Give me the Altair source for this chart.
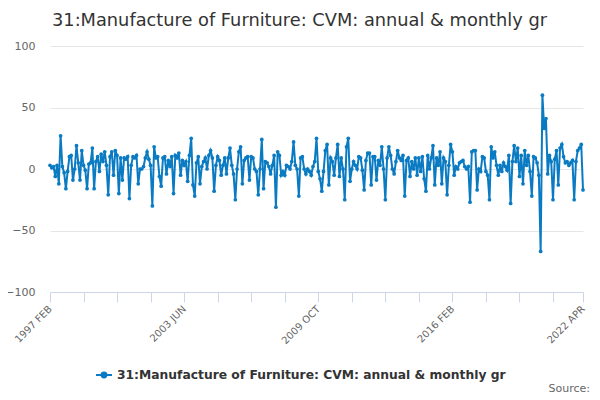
import altair as alt
import pandas as pd

series_name = "31:Manufacture of Furniture: CVM: annual & monthly gr"
title_text = "31:Manufacture of Furniture: CVM: annual & monthly gr"

# monthly values, 1997 FEB .. 2022 APR (303 months)
values = [
    3, 1, 2, -6, 3, -12, 27, 2, -3, -16, -2, 10,
    11, -9, 0, 19, 5, -9, 15, 3, -1, -16, 4, 5,
    17, -16, 6, 10, -2, 12, 6, 14, 3, -21, 10, 14,
    -5, 15, 11, -20, 9, -9, 9, 8, 10, -24, 3, 10,
    9, 11, -12, 0, 0, 2, 9, 14, 8, 3, -30, 18,
    9, 10, -6, -14, 9, 10, -4, 7, 2, 10, -20, 11,
    9, 13, -5, 7, 3, 6, -10, 11, 25, -13, -22, 5,
    10, -12, 2, 6, 9, 0, 11, 15, 9, -18, 3, 10,
    7, -5, 3, 9, -4, 9, 17, 3, -4, -25, 0, 14,
    18, -12, 7, 9, 10, -9, 10, 9, 0, -2, -21, 0,
    24, -16, 6, 5, 2, -4, 3, 11, -31, 14, 11, -5,
    -2, -5, 3, 2, 0, 6, 22, 3, 0, -22, 9, 10,
    0, -4, 0, -2, -5, 2, 6, 25, -2, -8, -18, -2,
    15, 20, -13, 9, 6, -5, 9, 20, -6, 9, 0, -25,
    18, 25, -10, 0, 6, 3, 0, 10, 9, -1, -17, 7,
    13, 13, -13, 10, 10, -9, 7, 3, 18, 0, -25, 9,
    18, 11, 0, -4, 6, 15, 9, 7, 11, -22, 7, 9,
    -6, 6, 0, 9, -5, 9, -2, 10, -8, -18, 11, 0,
    9, 19, -13, 9, 3, 14, -12, 9, 6, -21, 3, 20,
    14, -5, 2, 0, 5, 6, 7, 2, 0, 2, -27, 14,
    15, 15, -17, 0, -2, 10, 9, -2, -5, -25, 18, 9,
    14, 3, -5, 3, -2, 5, 2, -1, 11, -28, 6, 19,
    6, 17, -6, 11, -12, 15, 3, 11, -2, -22, 10, 9,
    5, -5, -67, 60, 33, 41, -4, 11, 6, -25, 8, 15,
    -13, 17, 20, 10, 5, 6, 3, 5, 7, -25, 6, 15,
    17, 20, -17,
]
assert len(values) == 303

tick_label_pos = [0, 76, 152, 228, 302]
tick_labels = ["1997 FEB", "2003 JUN", "2009 OCT", "2016 FEB", "2022 APR"]
tick_values = list(range(0, 286, 19)) + [302]

months = pd.date_range("1997-02-01", periods=len(values), freq="MS")
df = pd.DataFrame({
    "i": list(range(len(values))),
    "month": [m.strftime("%Y %b").upper() for m in months],
    "value": values,
    "series": series_name,
})

label_expr = "".join(
    f"datum.value == {p} ? '{t}' : " for p, t in zip(tick_label_pos, tick_labels)
) + "''"

FONT = "DejaVu Sans"
BLUE = "#0a7bc2"

legend_symbol = "M-1,0L1,0M-0.3,0A0.3,0.3 0 1,1 0.3,0A0.3,0.3 0 1,1 -0.3,0Z"

line = alt.Chart(df).mark_line(
    point=alt.OverlayMarkDef(filled=True, size=14, color=BLUE),
    strokeWidth=2,
).encode(
    x=alt.X(
        "i:Q",
        scale=alt.Scale(domain=[0, 302], nice=False, zero=False),
        axis=alt.Axis(
            title=None,
            values=tick_values,
            labelExpr=label_expr,
            labelAngle=-45,
            labelAlign="right",
            labelBaseline="middle",
            labelPadding=5,
            labelFont=FONT,
            labelFontSize=10,
            labelColor="#666666",
            labelOverlap=False,
            labelFlush=False,
            grid=False,
            domainColor="#ccd6eb",
            tickColor="#ccd6eb",
            tickSize=10,
        ),
    ),
    y=alt.Y(
        "value:Q",
        scale=alt.Scale(domain=[-100, 100], nice=False),
        axis=alt.Axis(
            title=None,
            values=[-100, -50, 0, 50, 100],
            ticks=False,
            domain=False,
            labelPadding=15,
            labelFont=FONT,
            labelFontSize=11,
            labelColor="#666666",
            gridColor="#e6e6e6",
        ),
    ),
    color=alt.Color(
        "series:N",
        scale=alt.Scale(range=[BLUE]),
        legend=alt.Legend(
            title=None,
            orient="none",
            legendX=45,
            legendY=320,
            symbolType=legend_symbol,
            symbolSize=256,
            symbolStrokeWidth=2,
            symbolStrokeColor=BLUE,
            symbolFillColor=BLUE,
            labelFont=FONT,
            labelFontSize=12.3,
            labelFontWeight="bold",
            labelColor="#333333",
            labelLimit=600,
        ),
    ),
)

source = alt.Chart(pd.DataFrame({"t": ["Source:"]})).mark_text(
    align="right", baseline="alphabetic", font=FONT, fontSize=11, color="#666666"
).encode(x=alt.value(540), y=alt.value(346), text="t:N")

chart = alt.layer(line, source).properties(
    width=533,
    height=246,
    padding={"left": 42, "top": 38, "right": 9, "bottom": 108},
    autosize=alt.AutoSizeParams(type="none"),
    title=alt.TitleParams(
        title_text,
        anchor="start",
        frame="group",
        font=FONT,
        fontSize=17.8,
        fontWeight="normal",
        color="#333333",
        offset=10,
        dx=2,
    ),
).configure_view(stroke=None)

chart.save("out.html", embed_options={"renderer": "svg", "actions": False})
